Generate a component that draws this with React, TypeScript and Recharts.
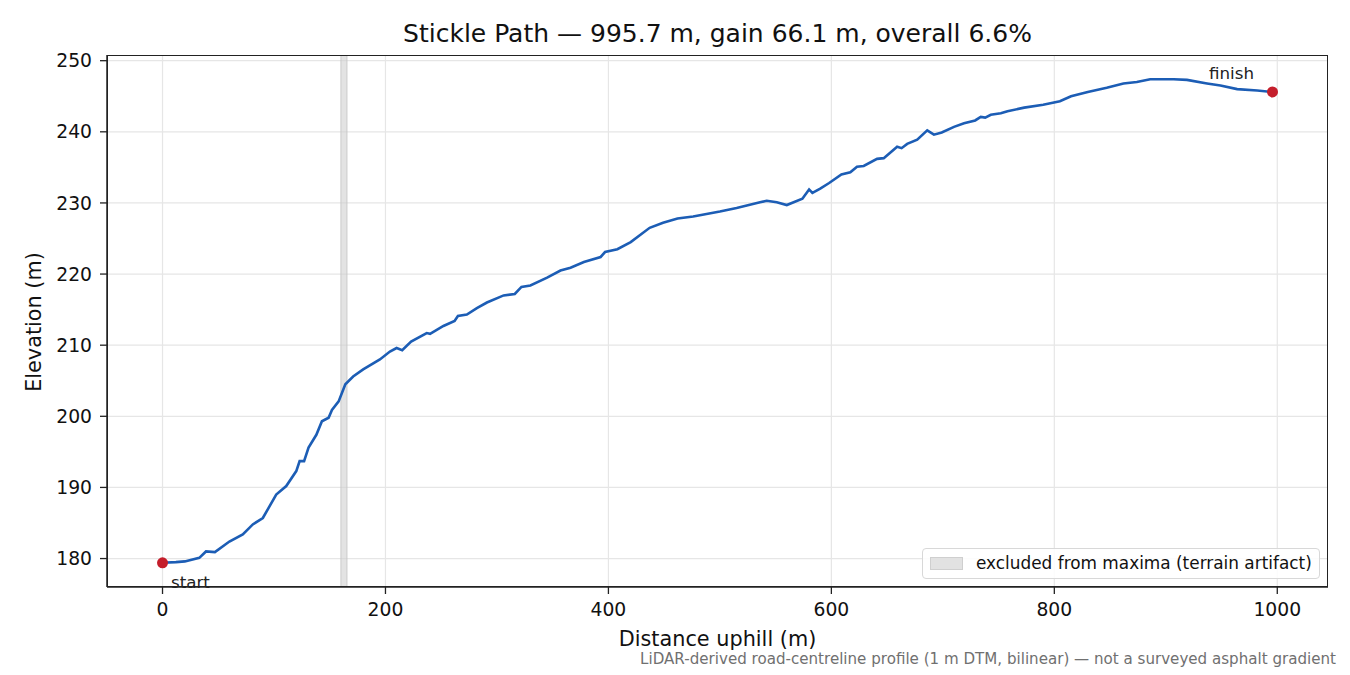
import React from 'react';
import { LineChart, Line, XAxis, YAxis, CartesianGrid, ReferenceArea, ReferenceDot } from 'recharts';

const distances = [0, 12, 20, 33, 39, 47, 60, 72, 81, 90, 102, 111, 120, 123, 127, 131, 138, 143, 149, 152, 158, 164, 171, 180, 195, 204, 210, 215, 223, 237, 240, 252, 262, 265, 273, 282, 291, 306, 316, 322, 330, 345, 357, 366, 378, 393, 397, 408, 420, 437, 449, 462, 476, 500, 515, 536, 542, 551, 560, 574, 580, 583, 590, 598, 609, 617, 623, 629, 641, 647, 659, 663, 668, 677, 686, 692, 699, 710, 719, 729, 734, 738, 743, 752, 758, 773, 790, 805, 815, 830, 847, 862, 874, 886, 907, 919, 937, 949, 964, 982, 995.7];
const elevations = [179.4, 179.5, 179.6, 180.1, 181.0, 180.9, 182.4, 183.4, 184.8, 185.7, 189.0, 190.2, 192.3, 193.7, 193.7, 195.6, 197.4, 199.3, 199.8, 200.9, 202.1, 204.5, 205.6, 206.6, 208.0, 209.1, 209.6, 209.3, 210.5, 211.7, 211.6, 212.7, 213.4, 214.1, 214.3, 215.2, 216.0, 217.0, 217.2, 218.2, 218.4, 219.5, 220.5, 220.9, 221.7, 222.4, 223.1, 223.5, 224.5, 226.5, 227.2, 227.8, 228.1, 228.8, 229.3, 230.1, 230.3, 230.1, 229.7, 230.6, 231.9, 231.4, 232.0, 232.8, 234.0, 234.3, 235.1, 235.2, 236.2, 236.3, 237.9, 237.7, 238.3, 238.9, 240.2, 239.6, 239.9, 240.7, 241.2, 241.6, 242.1, 242.0, 242.4, 242.6, 242.9, 243.4, 243.8, 244.3, 245.0, 245.6, 246.2, 246.8, 247.0, 247.4, 247.4, 247.3, 246.8, 246.5, 246.0, 245.8, 245.6];

const xTicks = [0, 200, 400, 600, 800, 1000];
const yTicks = [180, 190, 200, 210, 220, 230, 240, 250];
const excludedBand = [160, 165.5];
const startPoint = { d: 0, e: 179.4 };
const finishPoint = { d: 995.7, e: 245.6 };

const data = distances.map((d, i) => ({ d, e: elevations[i] }));

const FONT = 'DejaVu Sans, sans-serif';

export default function App() {
  const textBase: React.CSSProperties = { position: 'absolute', fontFamily: FONT, color: '#111', whiteSpace: 'nowrap', lineHeight: 1 };
  return (
    <div style={{ position: 'absolute', left: 0, top: 0, width: 1350, height: 675, background: '#fff' }}>
      <LineChart width={1350} height={675} data={data} margin={{ top: 55, right: 22, bottom: 48, left: 47 }}>
        <CartesianGrid stroke="#e6e6e6" strokeWidth={1.2} horizontalValues={yTicks} verticalValues={xTicks} />
        <ReferenceArea x1={excludedBand[0]} x2={excludedBand[1]} fill="#d0d0d0" fillOpacity={0.6} stroke="#c4c4c4" strokeOpacity={0.8} ifOverflow="hidden" />
        <XAxis dataKey="d" type="number" domain={[-49.8, 1045.5]} ticks={xTicks} allowDataOverflow height={40}
          tick={{ fontSize: 18.75, fill: '#111', fontFamily: FONT }} tickSize={7} tickMargin={9}
          axisLine={{ stroke: '#222', strokeWidth: 1.5 }} tickLine={{ stroke: '#222', strokeWidth: 1.3 }} />
        <YAxis type="number" domain={[176.0, 250.8]} ticks={yTicks} allowDataOverflow width={60}
          tick={{ fontSize: 18.75, fill: '#111', fontFamily: FONT }} tickSize={7} tickMargin={8}
          axisLine={{ stroke: '#222', strokeWidth: 1.5 }} tickLine={{ stroke: '#222', strokeWidth: 1.3 }} />
        <Line dataKey="e" type="linear" stroke="#1c5db5" strokeWidth={2.6} dot={false} isAnimationActive={false} />
        <ReferenceDot x={startPoint.d} y={startPoint.e} r={5.5} fill="#c41e2b" stroke="none" />
        <ReferenceDot x={finishPoint.d} y={finishPoint.e} r={5.5} fill="#c41e2b" stroke="none" />
      </LineChart>
      {/* frame */}
      <div style={{ position: 'absolute', left: 106.5, top: 54.5, width: 1221, height: 532, border: '1.5px solid #222', boxSizing: 'border-box', pointerEvents: 'none' }} />
      {/* title */}
      <div style={{ ...textBase, left: 0, width: 1435, top: 21, textAlign: 'center', fontSize: 25 }}>
        Stickle Path — 995.7 m, gain 66.1 m, overall 6.6%
      </div>
      {/* axis labels */}
      <div style={{ ...textBase, left: 0, width: 1435, top: 629, textAlign: 'center', fontSize: 20.8 }}>
        Distance uphill (m)
      </div>
      <div style={{ ...textBase, left: 34, top: 322, fontSize: 20.8, transform: 'translate(-50%, -50%) rotate(-90deg)' }}>
        Elevation (m)
      </div>
      {/* annotations */}
      <div style={{ ...textBase, left: 171, top: 574, fontSize: 16.7, color: '#222' }}>start</div>
      <div style={{ ...textBase, left: 1209, top: 65, fontSize: 16.7, color: '#222' }}>finish</div>
      {/* legend */}
      <div style={{ position: 'absolute', left: 922, top: 548, width: 398, height: 31, border: '1px solid #d8d8d8', borderRadius: 4, background: 'rgba(255,255,255,0.85)', boxSizing: 'border-box' }}>
        <div style={{ position: 'absolute', left: 7, top: 8, width: 33, height: 13, background: '#e2e2e2', border: '1px solid #cfcfcf', boxSizing: 'border-box' }} />
        <div style={{ ...textBase, left: 53, top: 6, fontSize: 16.9, color: '#111' }}>excluded from maxima (terrain artifact)</div>
      </div>
      {/* footnote */}
      <div style={{ ...textBase, right: 14, top: 652, fontSize: 15.1, color: '#707070' }}>
        LiDAR-derived road-centreline profile (1 m DTM, bilinear) — not a surveyed asphalt gradient
      </div>
    </div>
  );
}
